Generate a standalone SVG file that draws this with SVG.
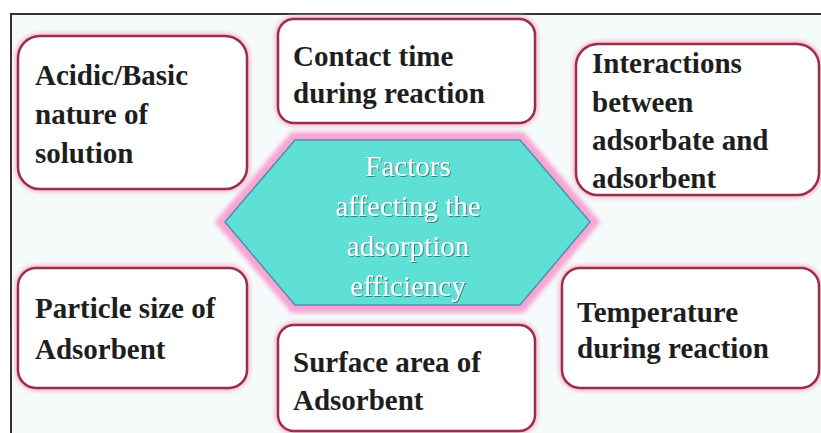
<svg xmlns="http://www.w3.org/2000/svg" width="821" height="433" viewBox="0 0 821 433">
<defs>
<filter id="glow" x="-10%" y="-10%" width="120%" height="120%">
<feGaussianBlur stdDeviation="2"/>
</filter>
<filter id="shadow" x="-10%" y="-10%" width="120%" height="130%">
<feDropShadow dx="1" dy="1" stdDeviation="0.6" flood-color="#2a6a6a" flood-opacity="0.8"/>
</filter>
</defs>
<style>
.box{fill:#ffffff;stroke:#9a2f45;stroke-width:2.5}
.halo{fill:none;stroke:#f6b6cf;stroke-width:6}
.t{font-family:"Liberation Serif","DejaVu Serif",serif;font-weight:bold;font-size:29px;fill:#1e1e1e}
.c{font-family:"Liberation Serif","DejaVu Serif",serif;font-size:29px;fill:#ffffff;text-anchor:middle}
</style>
<rect x="0" y="0" width="821" height="433" fill="#ffffff"/>
<rect x="11" y="14" width="810" height="419" fill="#f5fbfb"/>
<path d="M11 433 V14 H821" fill="none" stroke="#333333" stroke-width="2"/>

<g id="center">
<polygon points="225,222 295,140 520,140 590,222 520,305 295,305" fill="none" stroke="#f7a6d2" stroke-width="16" filter="url(#glow)"/>
<polygon points="225,222 295,140 520,140 590,222 520,305 295,305" fill="#5fe0d6" stroke="#4d8fb0" stroke-width="1.5"/>
<g filter="url(#shadow)">
<text class="c" x="408" y="176">Factors</text>
<text class="c" x="408" y="216">affecting the</text>
<text class="c" x="408" y="256">adsorption</text>
<text class="c" x="408" y="296">efficiency</text>
</g>
</g>

<g id="n1">
<rect class="halo" x="18" y="36" width="229" height="153" rx="22" filter="url(#glow)"/>
<rect class="box" x="18" y="36" width="229" height="153" rx="22"/>
<text class="t" x="35" y="85">Acidic/Basic</text>
<text class="t" x="35" y="124">nature of</text>
<text class="t" x="35" y="163">solution</text>
</g>

<g id="n2">
<rect class="halo" x="278" y="19" width="257" height="104" rx="16" filter="url(#glow)"/>
<rect class="box" x="278" y="19" width="257" height="104" rx="16"/>
<text class="t" x="293" y="66">Contact time</text>
<text class="t" x="293" y="103">during reaction</text>
</g>

<g id="n3">
<rect class="halo" x="576" y="44" width="243" height="151" rx="22" filter="url(#glow)"/>
<rect class="box" x="576" y="44" width="243" height="151" rx="22"/>
<text class="t" x="592" y="73">Interactions</text>
<text class="t" x="592" y="112">between</text>
<text class="t" x="592" y="150">adsorbate and</text>
<text class="t" x="592" y="188">adsorbent</text>
</g>

<g id="n4">
<rect class="halo" x="18" y="268" width="229" height="120" rx="18" filter="url(#glow)"/>
<rect class="box" x="18" y="268" width="229" height="120" rx="18"/>
<text class="t" x="35" y="318">Particle size of</text>
<text class="t" x="35" y="359">Adsorbent</text>
</g>

<g id="n5">
<rect class="halo" x="278" y="325" width="257" height="106" rx="16" filter="url(#glow)"/>
<rect class="box" x="278" y="325" width="257" height="106" rx="16"/>
<text class="t" x="293" y="372">Surface area of</text>
<text class="t" x="293" y="410">Adsorbent</text>
</g>

<g id="n6">
<rect class="halo" x="562" y="268" width="257" height="120" rx="18" filter="url(#glow)"/>
<rect class="box" x="562" y="268" width="257" height="120" rx="18"/>
<text class="t" x="577" y="322">Temperature</text>
<text class="t" x="577" y="358">during reaction</text>
</g>

<g id="connectors"></g>
</svg>
